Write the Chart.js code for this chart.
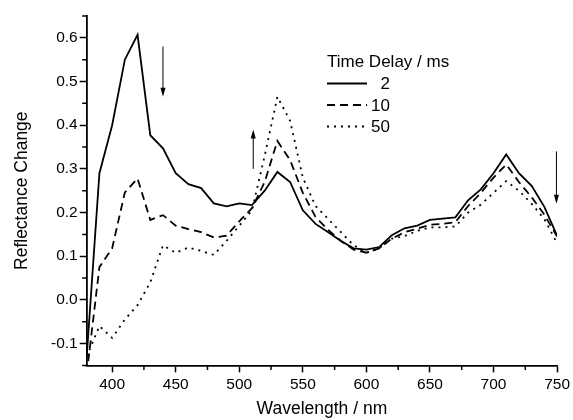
<!DOCTYPE html>
<html>
<head>
<meta charset="utf-8">
<script src="https://cdn.jsdelivr.net/npm/chart.js@4.4.0/dist/chart.umd.min.js"></script>
<style>
  html, body { margin: 0; padding: 0; background: #fff; }
  #chart { display: block; }
</style>
</head>
<body>
<canvas id="chart" width="573" height="420"></canvas>
<script>
// spectra, one value per 10 nm
const wavelengths = [380, 390, 400, 410, 420, 430, 440, 450, 460, 470, 480, 490, 500, 510, 520, 530, 540, 550, 560,
  570, 580, 590, 600, 610, 620, 630, 640, 650, 660, 670, 680, 690, 700, 710, 720, 730, 740, 750];
const delay2 = [-0.13, 0.29, 0.40, 0.55, 0.607, 0.377, 0.347, 0.29, 0.265, 0.256, 0.221, 0.214, 0.221, 0.217, 0.25,
  0.293, 0.27, 0.205, 0.174, 0.155, 0.135, 0.118, 0.115, 0.121, 0.148, 0.164, 0.17, 0.183, 0.186, 0.189, 0.228,
  0.253, 0.29, 0.333, 0.29, 0.261, 0.213, 0.147];
const delay10 = [-0.17, 0.075, 0.118, 0.246, 0.278, 0.183, 0.194, 0.17, 0.162, 0.155, 0.143, 0.147, 0.18, 0.21, 0.27,
  0.364, 0.32, 0.245, 0.19, 0.16, 0.135, 0.115, 0.108, 0.118, 0.14, 0.155, 0.163, 0.172, 0.174, 0.178, 0.215,
  0.245, 0.28, 0.31, 0.27, 0.235, 0.195, 0.145];
const delay50 = [-0.13, -0.06, -0.087, -0.045, -0.012, 0.04, 0.125, 0.108, 0.12, 0.112, 0.103, 0.135, 0.17, 0.205, 0.33,
  0.465, 0.41, 0.28, 0.215, 0.185, 0.155, 0.125, 0.108, 0.118, 0.14, 0.146, 0.158, 0.166, 0.166, 0.168, 0.2,
  0.218, 0.245, 0.272, 0.25, 0.22, 0.185, 0.13];
const seriesLabels = ['2', '10', '50'];
const legendTitle = 'Time Delay / ms';

const xTicks = [400, 450, 500, 550, 600, 650, 700, 750];
const xMinorTicks = [425, 475, 525, 575, 625, 675, 725];
const yTicks = [-0.1, 0.0, 0.1, 0.2, 0.3, 0.4, 0.5, 0.6];
const yMinorTicks = [-0.15, -0.05, 0.05, 0.15, 0.25, 0.35, 0.45, 0.55, 0.65];

// trend arrows (wavelength, start value, end value)
const arrowWavelength = [440, 511, 749.5];
const arrowStart = [0.58, 0.30, 0.34];
const arrowEnd = [0.465, 0.39, 0.22];

Chart.defaults.font.family = '"Liberation Sans", Arial, sans-serif';
Chart.defaults.color = '#000';

function toPoints(values) {
  return wavelengths.map((w, i) => ({ x: w, y: values[i] }));
}

const dashes = [[], [8, 5], [2, 5]];
const datasets = [delay2, delay10, delay50].map((values, i) => ({
  label: seriesLabels[i],
  data: toPoints(values),
  borderColor: '#000',
  borderWidth: 1.8,
  borderDash: dashes[i],
  pointRadius: 0,
  tension: 0,
  fill: false
}));

const decor = {
  id: 'decor',
  afterDraw(chart) {
    const { ctx, scales: { x, y } } = chart;
    ctx.save();
    ctx.strokeStyle = '#000';
    ctx.fillStyle = '#000';

    // minor ticks
    ctx.lineWidth = 1.5;
    ctx.beginPath();
    xMinorTicks.forEach((v) => {
      const px = x.getPixelForValue(v);
      ctx.moveTo(px, x.top);
      ctx.lineTo(px, x.top + 4.5);
    });
    yMinorTicks.forEach((v) => {
      const py = y.getPixelForValue(v);
      ctx.moveTo(y.right, py);
      ctx.lineTo(y.right - 4.5, py);
    });
    ctx.stroke();

    // arrows
    ctx.lineWidth = 1;
    arrowWavelength.forEach((w, i) => {
      const px = x.getPixelForValue(w);
      const y0 = y.getPixelForValue(arrowStart[i]);
      const y1 = y.getPixelForValue(arrowEnd[i]);
      const dir = y1 > y0 ? 1 : -1;
      ctx.beginPath();
      ctx.moveTo(px, y0);
      ctx.lineTo(px, y1 - dir * 6);
      ctx.stroke();
      ctx.beginPath();
      ctx.moveTo(px, y1);
      ctx.lineTo(px - 2.5, y1 - dir * 9);
      ctx.lineTo(px + 2.5, y1 - dir * 9);
      ctx.closePath();
      ctx.fill();
    });

    // legend
    const lx = 327, ly = 62, rowGap = 21.5;
    ctx.font = '17px "Liberation Sans", Arial, sans-serif';
    ctx.textBaseline = 'middle';
    ctx.textAlign = 'left';
    ctx.fillText(legendTitle, lx, ly);
    chart.data.datasets.forEach((ds, i) => {
      const ry = ly + rowGap * (i + 1);
      ctx.lineWidth = ds.borderWidth;
      ctx.setLineDash(ds.borderDash);
      ctx.beginPath();
      ctx.moveTo(lx, ry);
      ctx.lineTo(lx + 40, ry);
      ctx.stroke();
      ctx.setLineDash([]);
      ctx.textAlign = 'right';
      ctx.fillText(ds.label, lx + 63, ry + 1);
    });
    ctx.restore();
  }
};

new Chart(document.getElementById('chart'), {
  type: 'line',
  data: { datasets },
  options: {
    responsive: false,
    animation: false,
    devicePixelRatio: 1,
    layout: { padding: { top: 16, right: 0, left: 12, bottom: 0 } },
    plugins: {
      legend: { display: false },
      tooltip: { enabled: false }
    },
    scales: {
      x: {
        type: 'linear',
        min: 380,
        max: 750,
        afterBuildTicks: (s) => { s.ticks = xTicks.map((v) => ({ value: v })); },
        border: { color: '#000', width: 1.8 },
        grid: { drawOnChartArea: false, tickLength: 7, tickWidth: 1.5, tickColor: '#000' },
        ticks: { color: '#000', font: { size: 15.5 }, padding: 3, maxRotation: 0, callback: (v) => String(v) },
        title: { display: true, text: 'Wavelength / nm', color: '#000', font: { size: 17.5 }, padding: { top: 2, bottom: 0 } }
      },
      y: {
        min: -0.15,
        max: 0.65,
        afterBuildTicks: (s) => { s.ticks = yTicks.map((v) => ({ value: v })); },
        border: { color: '#000', width: 1.8 },
        grid: { drawOnChartArea: false, tickLength: 7, tickWidth: 1.5, tickColor: '#000' },
        ticks: { color: '#000', font: { size: 15.5 }, padding: 2, callback: (v) => v.toFixed(1) },
        title: { display: true, text: 'Reflectance Change', color: '#000', font: { size: 17.5 }, padding: { top: 0, bottom: 16 } }
      }
    }
  },
  plugins: [decor]
});
</script>
</body>
</html>
